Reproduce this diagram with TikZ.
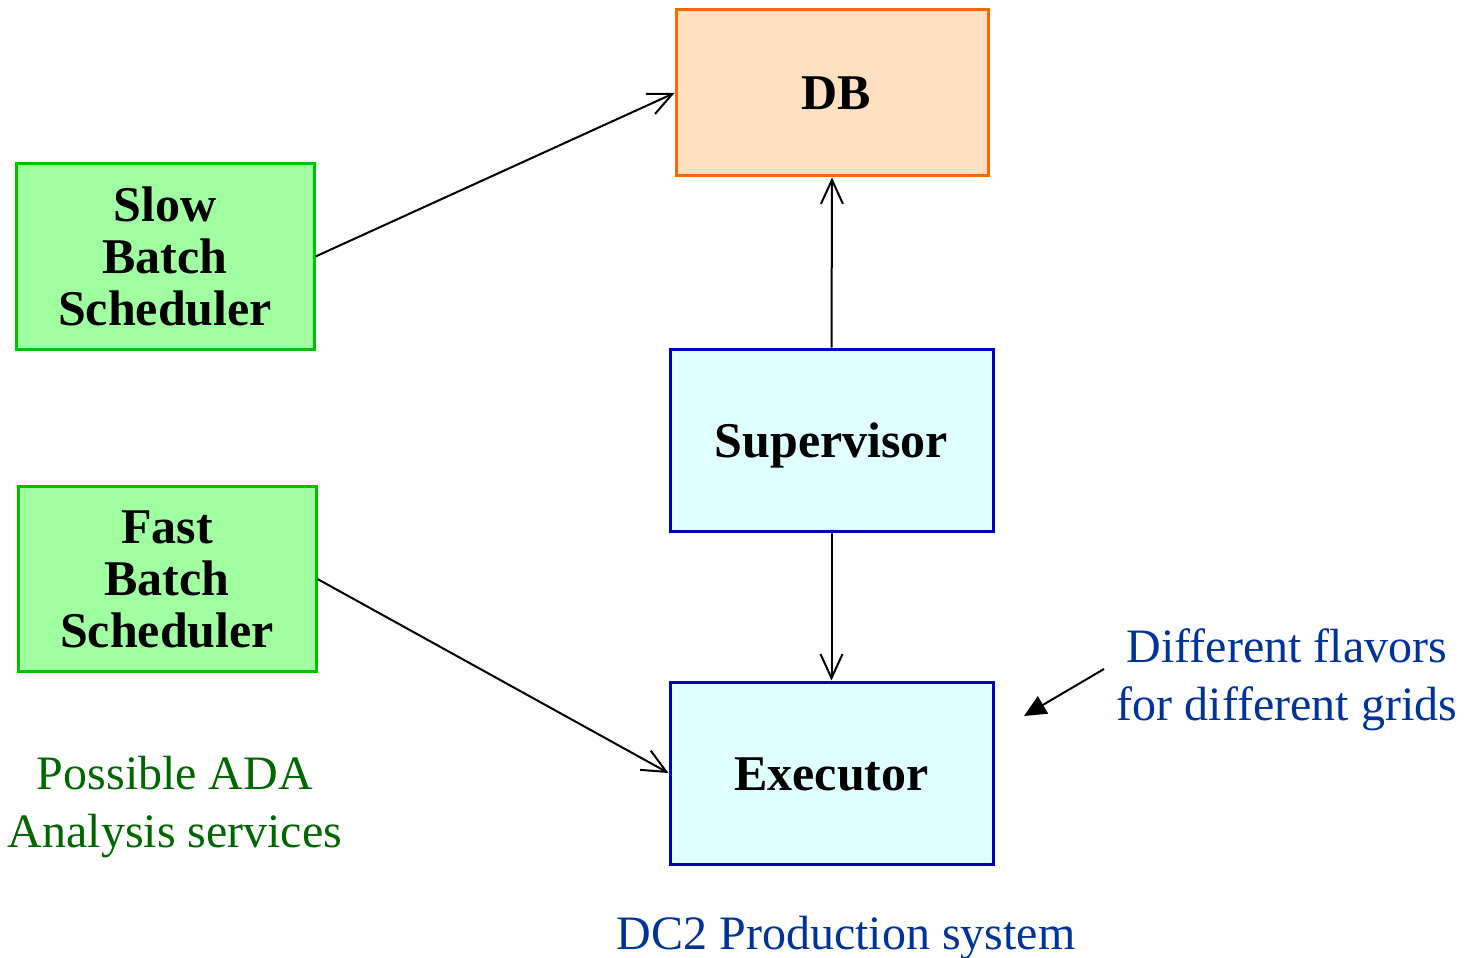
\documentclass[tikz,border=0pt]{standalone}
\usepackage{fontspec}
\setmainfont{Liberation Serif}
\usetikzlibrary{arrows.meta}
\definecolor{dbfill}{RGB}{255,224,192}
\definecolor{dbline}{RGB}{255,102,0}
\definecolor{gfill}{RGB}{160,255,160}
\definecolor{gline}{RGB}{0,192,0}
\definecolor{bfill}{RGB}{224,255,255}
\definecolor{bline}{RGB}{0,0,192}
\definecolor{bluetxt}{RGB}{0,51,153}
\definecolor{greentxt}{RGB}{0,102,0}
\tikzset{
  boxnode/.style={draw, line width=1.5pt, inner sep=0pt, align=center,
    font=\fontsize{25}{26}\selectfont\bfseries},
  dbbox/.style={boxnode, fill=dbfill, draw=dbline},
  greenbox/.style={boxnode, fill=gfill, draw=gline, minimum width=149pt, minimum height=92.5pt},
  bluebox/.style={boxnode, fill=bfill, draw=bline, minimum width=161.5pt, minimum height=91pt},
  conn/.style={line width=1pt, -{Straight Barb[length=12pt,width=11pt,line width=1pt]}},
  note/.style={align=center, font=\fontsize{24}{29}\selectfont}
}
\begin{document}
\begin{tikzpicture}[x=0.5pt,y=-0.5pt]
\useasboundingbox (0,0) rectangle (1470,957);
\node[dbbox, minimum width=156pt, minimum height=83pt] (db) at (832,93) {\hspace*{4pt}DB};
\node[greenbox] (slow) at (165,256.5) {Slow\\Batch\\Scheduler};
\node[greenbox] (fast) at (167,579) {Fast\\Batch\\Scheduler};
\node[bluebox, text depth=0pt] (sup) at (831.5,440) {Supervisor};
\node[bluebox, text depth=0pt] (exe) at (831.5,773) {\raisebox{-1pt}{Executor}};
\draw[conn] (slow.east) -- (db.west);
\draw[conn] (sup.north) -- (db.south);
\draw[conn] (sup.south) -- (exe.north);
\draw[conn] (fast.east) -- (exe.west);
\node[note, text=bluetxt] (flav) at (1287,680) {Different flavors\\for different grids};
\coordinate (a1) at (1104,669);
\coordinate (a2) at (1024,716);
\draw[line width=1pt, -{Triangle[length=11pt,width=10pt]}] (a1) -- (a2);
\node[note, text=greentxt] (ada) at (175,807) {Possible ADA\\Analysis services};
\node[note, text=bluetxt] (dc2) at (846,938) {DC2 Production system};
\end{tikzpicture}
\end{document}
